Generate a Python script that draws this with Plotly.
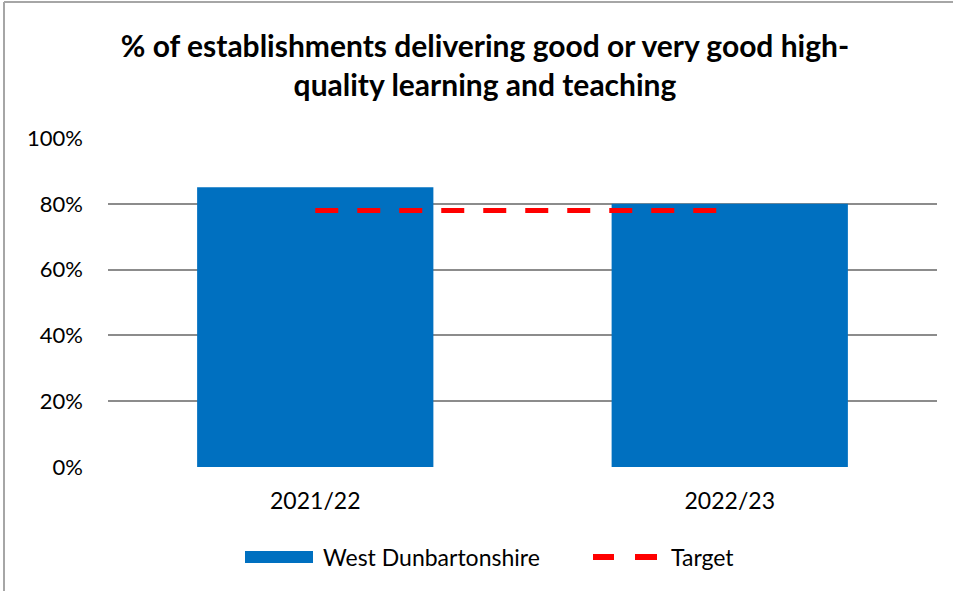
import plotly.graph_objects as go

categories = ["2021/22", "2022/23"]
west_dunbartonshire = [0.85, 0.80]
target = [0.78, 0.78]
tick_vals = [0, 0.2, 0.4, 0.6, 0.8, 1.0]
tick_text = ["0%", "20%", "40%", "60%", "80%", "100%"]

FONT = "Lato, Carlito, Calibri, sans-serif"
BLUE = "#0070C0"
RED = "#FF0000"

W, H = 953, 591
L, R, T, B = 108, 16, 138, 124
pw, ph = W - L - R, H - T - B


def px(fx):
    return (fx - L) / pw


def py(fy):
    return (H - B - fy) / ph


fig = go.Figure()
fig.add_trace(go.Bar(
    x=categories, y=west_dunbartonshire, name="West Dunbartonshire",
    marker=dict(color=BLUE, line=dict(width=0)), showlegend=False,
))
fig.add_trace(go.Scatter(
    x=categories, y=target, name="Target", mode="lines",
    line=dict(color=RED, width=5, dash="23px,19px"), showlegend=False,
))

shapes = [
    # chart border (left and top edges visible in the reference)
    dict(type="line", xref="paper", yref="paper",
         x0=px(4), x1=px(4), y0=py(2), y1=py(600),
         line=dict(color="#A6A6A6", width=2)),
    dict(type="line", xref="paper", yref="paper",
         x0=px(4), x1=px(960), y0=py(2), y1=py(2),
         line=dict(color="#A6A6A6", width=2)),
    # legend symbols
    dict(type="rect", xref="paper", yref="paper",
         x0=px(245), x1=px(313), y0=py(563), y1=py(551),
         fillcolor=BLUE, line=dict(width=0)),
    dict(type="line", xref="paper", yref="paper",
         x0=px(593), x1=px(614), y0=py(557), y1=py(557),
         line=dict(color=RED, width=6)),
    dict(type="line", xref="paper", yref="paper",
         x0=px(635), x1=px(657), y0=py(557), y1=py(557),
         line=dict(color=RED, width=6)),
]

annotations = [
    dict(text="West Dunbartonshire", xref="paper", yref="paper",
         x=px(321), y=py(557), xanchor="left", yanchor="middle",
         showarrow=False, font=dict(family=FONT, size=23, color="#000000")),
    dict(text="Target", xref="paper", yref="paper",
         x=px(669), y=py(557), xanchor="left", yanchor="middle",
         showarrow=False, font=dict(family=FONT, size=23, color="#000000")),
]

fig.update_layout(
    width=W, height=H, autosize=False,
    margin=dict(l=L, r=R, t=T, b=B),
    paper_bgcolor="white", plot_bgcolor="white",
    font=dict(family=FONT, size=22, color="#000000"),
    bargap=0.43,
    showlegend=False,
    hovermode=False,
    title=dict(
        text="<b>% of establishments delivering good or very good high-<br>quality learning and teaching</b>",
        x=485 / W, xanchor="center", xref="container",
        y=1 - 57 / H, yanchor="middle", yref="container",
        font=dict(family=FONT, size=30, color="#000000"),
    ),
    xaxis=dict(
        showgrid=False, zeroline=False, showline=False,
        tickfont=dict(size=23), ticks="", ticklabelstandoff=18,
    ),
    yaxis=dict(
        range=[0, 1.0], tickvals=tick_vals, ticktext=tick_text,
        showgrid=True, gridcolor="#8C8C8C", gridwidth=2,
        zeroline=False, showline=False, ticks="",
        tickfont=dict(size=22), ticklabelstandoff=24,
    ),
    shapes=shapes,
    annotations=annotations,
)

fig.write_html(
    "out.html",
    config={"displayModeBar": False},
    post_script="document.body.style.margin='0';document.body.style.overflow='hidden';",
)
